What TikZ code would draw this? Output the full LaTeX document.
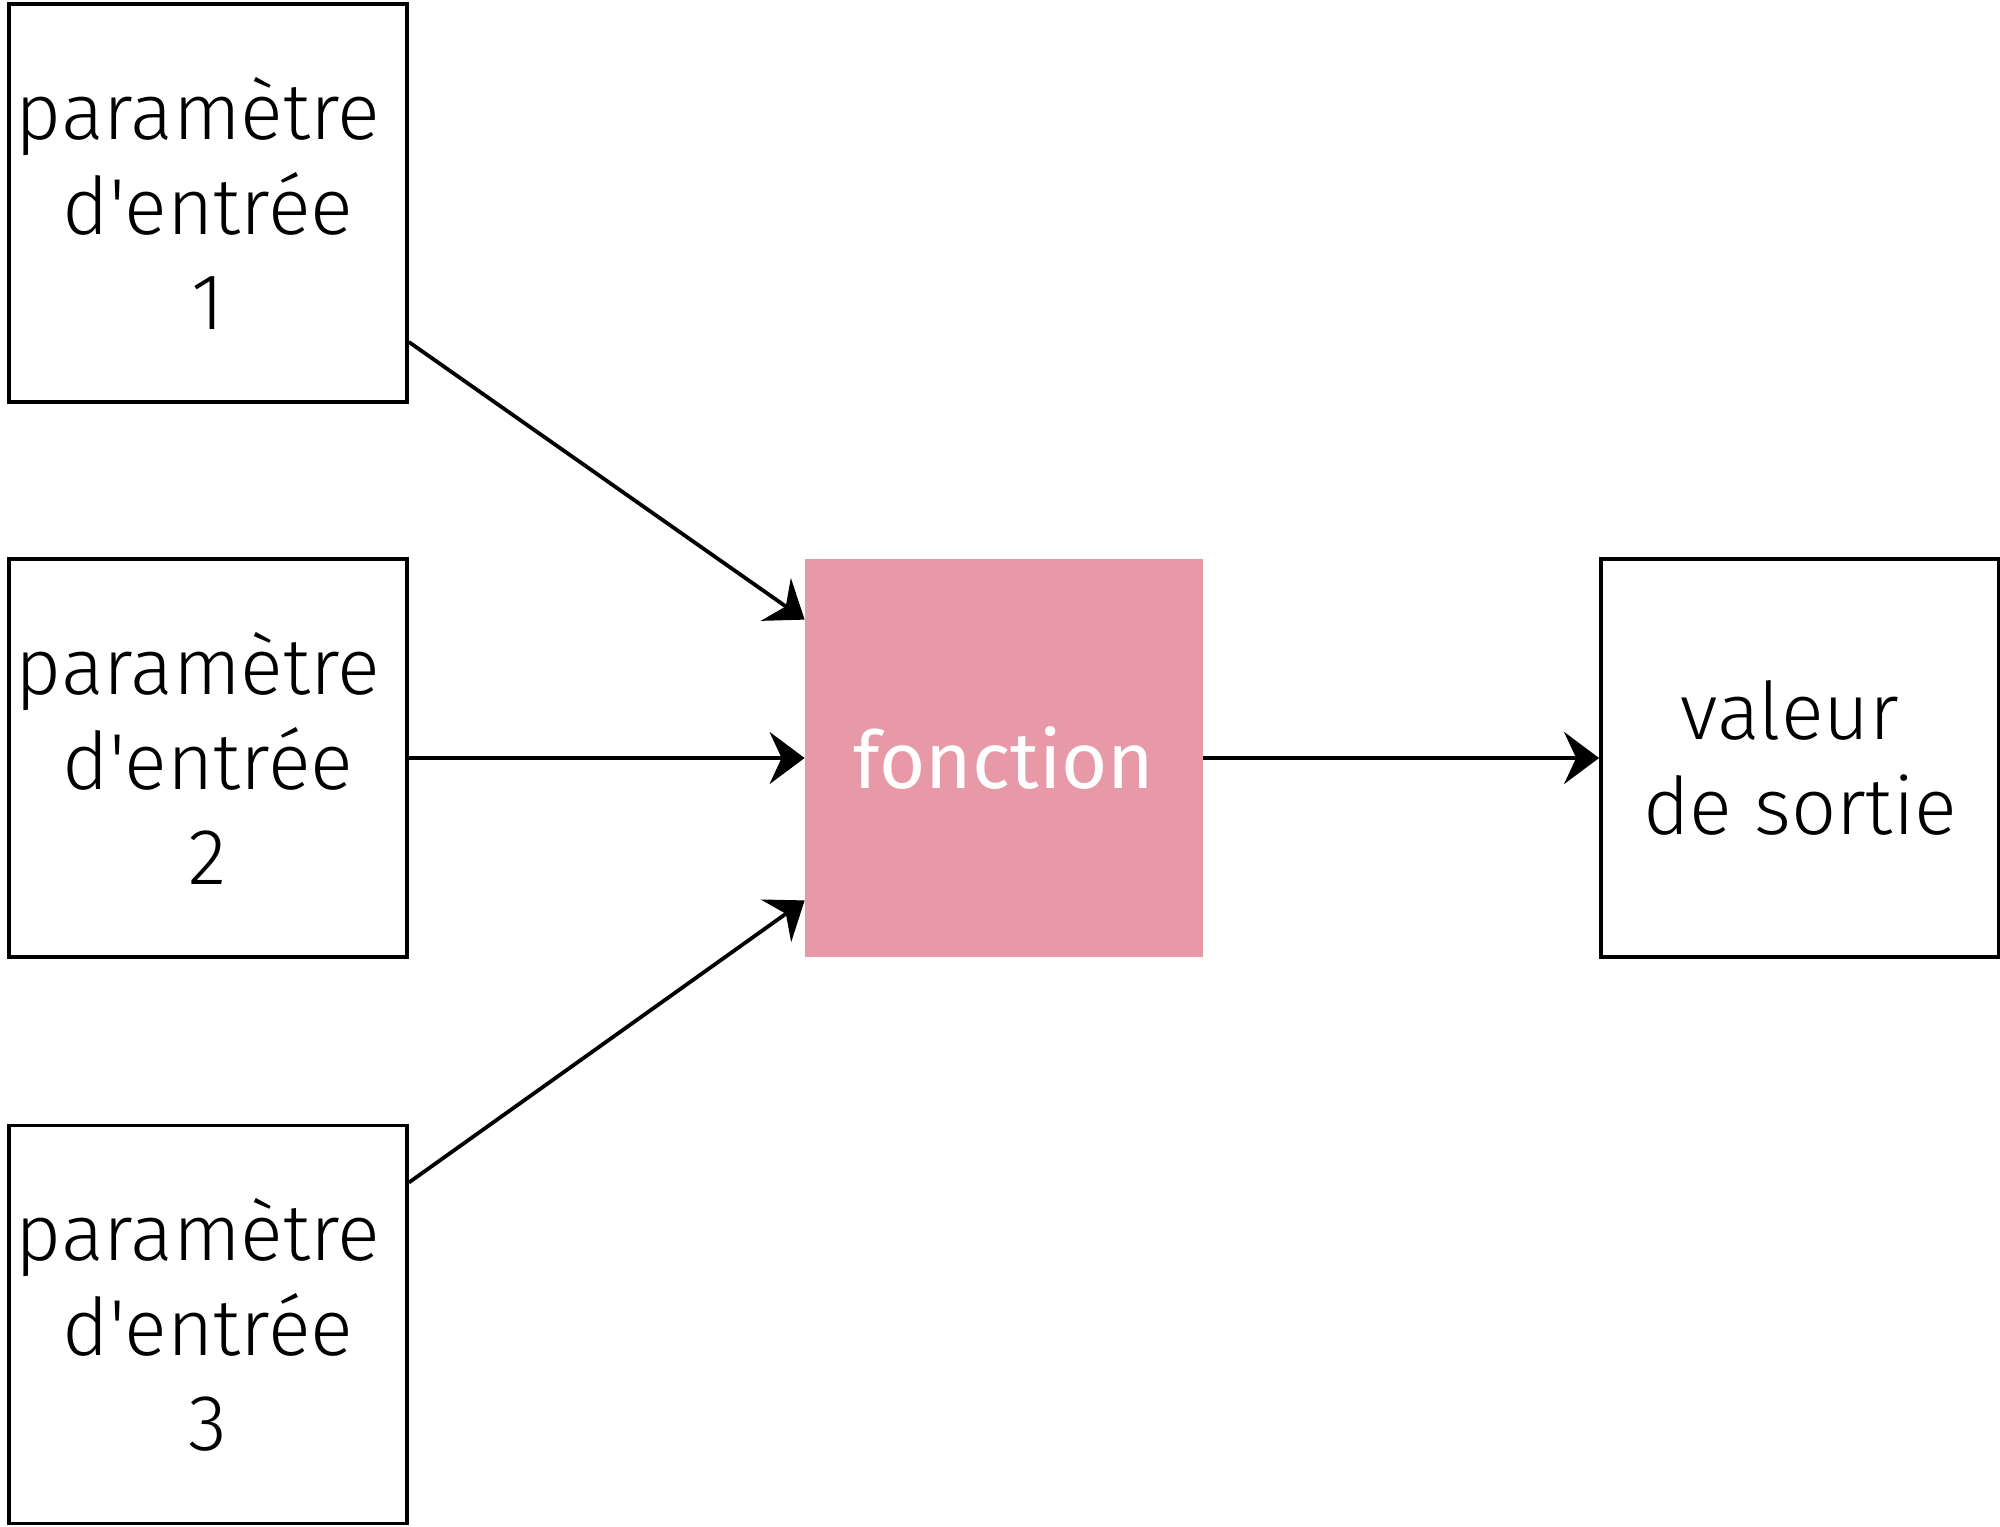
\documentclass[tikz,border=0pt]{standalone}
\usepackage{fontspec}
\setmainfont{Fira Sans}[UprightFont={* Light},Ligatures=TeXOff]
\newfontfamily\fregular{Fira Sans}[Ligatures=TeXOff]
\usetikzlibrary{arrows.meta}
\definecolor{fpink}{HTML}{E899A7}
\newcommand{\trail}{\makebox[0.25em]{}}
\begin{document}
\begin{tikzpicture}[x=0.5pt,y=-0.5pt,
  every node/.style={font=\fontsize{39.7pt}{47.5pt}\selectfont, align=center, inner sep=0pt,
    minimum width=199pt, minimum height=199pt},
  pbox/.style={draw=black, line width=1.9pt},
  fbox/.style={fill=fpink, text=white, font=\fontsize{39.7pt}{47.5pt}\fregular},
  conn/.style={draw=black, line width=1.9pt, -{Stealth[length=17.5pt,width=26pt,inset=6pt]}}]
\useasboundingbox (0,0) rectangle (2000,1526);
\node[pbox] (p1) at (208,203) {paramètre\trail\\d'entrée\\1};
\node[pbox] (p2) at (208,758) {paramètre\trail\\d'entrée\\2};
\node[pbox] (p3) at (208,1324.5) {paramètre\trail\\d'entrée\\3};
\node[fbox] (f) at (1004,758) {fonction};
\node[pbox] (o) at (1800,758) {valeur\trail\\de sortie};
\draw[conn] ([yshift=-69.5pt]p1.east) -- ([yshift=-30.5pt]f.north west);
\draw[conn] (p2.east) -- (f.west);
\draw[conn] ([yshift=71pt]p3.east) -- ([yshift=28.5pt]f.south west);
\draw[conn] (f.east) -- (o.west);
\end{tikzpicture}
\end{document}
